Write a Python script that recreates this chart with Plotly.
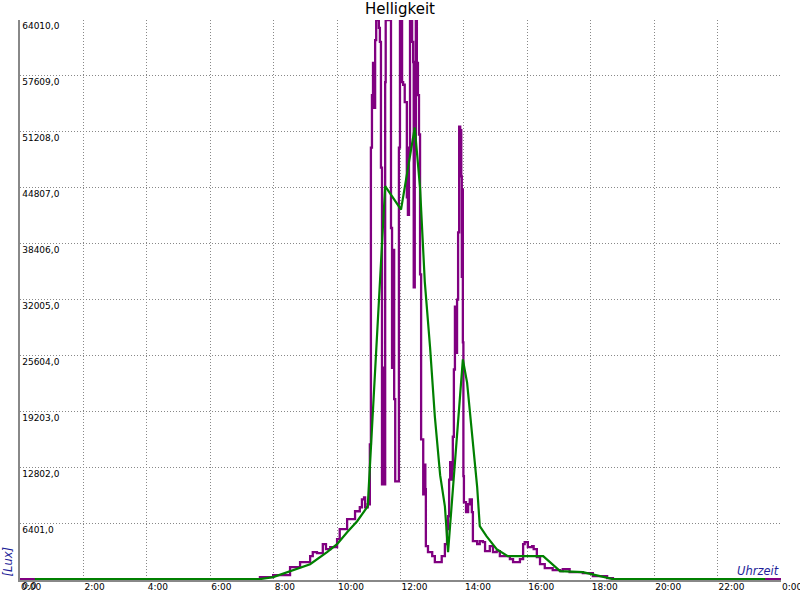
import plotly.graph_objects as go

# Raw brightness readings (lux), stepped
raw_times = ["00:00","07:30","07:34","07:59","08:31","08:50","09:09","09:14","09:22","09:33","09:39","09:47",
             "10:00","10:05","10:19","10:34","10:43","10:47","10:51","10:53","10:58","11:02","11:04","11:06",
             "11:08","11:10","11:12","11:14","11:19","11:21","11:23","11:25","11:27","11:29","11:31","11:32",
             "11:42","11:44","11:46","11:48","11:50","11:57","11:59","12:03","12:05","12:08","12:12","12:14",
             "12:16","12:18","12:22","12:24","12:25","12:27","12:29","12:31","12:33","12:35","12:37","12:39",
             "12:43","12:45","12:47","12:48","12:52","13:00","13:05","13:18","13:24","13:28","13:30","13:32",
             "13:34","13:36","13:38","13:39","13:41","13:43","13:45","13:47","13:49","13:51","13:53","13:55",
             "13:56","13:57","13:58","13:59","14:00","14:04","14:08","14:11","14:15","14:17","14:25","14:30",
             "14:36","14:40","14:49","14:55","15:02","15:08","15:27","15:33","15:46","15:52","15:55","16:01",
             "16:09","16:12","16:18","16:24","16:33","16:48","17:02","17:07","17:20","17:45","18:04","18:31",
             "18:42","24:00"]
raw_lux = [0,0,230,460,1370,1940,2630,3090,2970,4000,3430,3660,
           4570,5720,6860,7770,8230,9140,9370,8230,8570,15430,49400,55400,
           59100,53950,61700,64010,63100,61500,47100,10860,24200,10860,56900,64010,
           40200,24200,37700,20600,11200,49400,64010,56900,56600,54600,43700,41700,
           49400,64010,61500,59200,33400,49100,64010,59100,55400,50900,34900,16000,
           9700,13100,10300,3770,3090,2630,1940,2630,4000,5720,7200,11400,
           13400,11400,12600,16300,24000,31200,25900,32000,39700,51800,51400,46100,
           34600,44600,27100,11800,8800,7660,8570,9140,7660,4340,4000,4340,
           4230,3200,3770,3090,3200,2630,2290,1940,2290,4000,4230,3660,
           3770,3430,2510,1710,1260,1030,910,1140,800,690,340,110,
           0,0]

# Averaged brightness (lux)
avg_times = ["00:28","07:34","07:59","08:31","09:09","09:41","10:00","10:19","10:38","10:58","11:31","12:01",
             "12:27","12:37","12:46","12:56","13:05","13:15","13:24","13:30","13:58","14:06","14:11","14:17",
             "14:25","14:30","14:43","15:02","15:23","16:30","17:02","17:45","18:42","23:30"]
avg_lux = [0,0,230,910,1710,3090,4000,5370,6630,8340,45000,42300,
           51700,44800,34000,26500,18600,11900,8340,3090,25150,22500,19400,15700,
           10600,6060,4900,3430,2630,2630,910,800,0,0]

x_tickvals = list(range(0, 25, 2))
x_ticktext = [f"{h % 24}:00" for h in x_tickvals]
y_tickvals = [i * 6401 for i in range(11)]
y_ticktext = [f"{v},0" for v in y_tickvals]


def to_hours(t):
    h, m = t.split(":")
    return int(h) + int(m) / 60.0


fig = go.Figure()
fig.add_trace(go.Scatter(x=[to_hours(t) for t in raw_times], y=raw_lux, mode="lines",
                         line=dict(color="#800080", width=2.3, shape="hv"), name="Helligkeit"))
fig.add_trace(go.Scatter(x=[to_hours(t) for t in avg_times], y=avg_lux, mode="lines",
                         line=dict(color="#008000", width=2.2), name="Mittel", cliponaxis=False))

axis_common = dict(showgrid=True, gridcolor="#888888", griddash="1px,2px", gridwidth=1,
                   showline=True, linecolor="#888888", linewidth=2, ticks="", zeroline=False,
                   automargin=False, ticklabeloverflow="allow",
                   tickfont=dict(family="DejaVu Sans", size=9, color="black"), layer="below traces")

fig.update_layout(
    width=800, height=600,
    margin=dict(l=20, r=19, t=20, b=20, autoexpand=False),
    paper_bgcolor="white", plot_bgcolor="white",
    showlegend=False,
    font=dict(family="DejaVu Sans"),
    title=dict(text="Helligkeit", x=0.5, xanchor="center", y=0.995, yanchor="top",
               automargin=False,
               font=dict(family="DejaVu Sans", size=15, color="black")),
    xaxis=dict(range=[0, 24], tickvals=x_tickvals, ticktext=x_ticktext,
               ticklabelposition="outside right", ticklabelstandoff=-3, **axis_common),
    yaxis=dict(range=[-100, 64010], tickvals=y_tickvals, ticktext=y_ticktext,
               ticklabelposition="inside bottom", **axis_common),
    annotations=[
        dict(text="[Lux]", xref="paper", yref="paper", x=-0.0145, y=0.0036, xanchor="center",
             yanchor="bottom", textangle=-90, showarrow=False,
             font=dict(family="DejaVu Sans", size=11.5, color="#1f1f99", style="italic")),
        dict(text="Uhrzeit", xref="paper", yref="paper", x=1, y=0, xanchor="right",
             yanchor="bottom", showarrow=False, yshift=0,
             font=dict(family="DejaVu Sans", size=11.5, color="#1f1f99", style="italic")),
    ],
)

fig.write_html("out.html", config={"displayModeBar": False},
               post_script="document.body.style.margin='0';document.body.style.overflow='hidden';")
